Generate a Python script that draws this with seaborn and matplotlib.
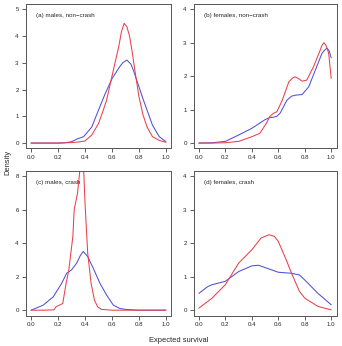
import matplotlib
matplotlib.use("Agg")
import matplotlib.pyplot as plt
import seaborn as sns
import pandas as pd

sns.set_style("white")
plt.rcParams['font.family'] = ['Liberation Sans', 'DejaVu Sans']

tickFont = 4.4
labelFont = 5.4
red = '#e8404c'
blue = '#5050d8'

# ---- curves (x = expected survival, y = density) ----
a_red_x = [0.0, 0.1, 0.2, 0.3, 0.35, 0.4, 0.45, 0.5, 0.53, 0.56, 0.6, 0.65, 0.67, 0.69, 0.71, 0.73, 0.75, 0.77, 0.8, 0.83, 0.86, 0.9, 0.95, 1.0]
a_red_y = [0.0, 0.0, 0.0, 0.02, 0.04, 0.08, 0.3, 0.73, 1.15, 1.6, 2.5, 3.6, 4.15, 4.47, 4.35, 4.0, 3.4, 2.7, 1.73, 1.05, 0.6, 0.24, 0.1, 0.03]
a_blue_x = [0.0, 0.1, 0.2, 0.25, 0.3, 0.34, 0.39, 0.45, 0.5, 0.55, 0.6, 0.65, 0.68, 0.71, 0.74, 0.76, 0.8, 0.83, 0.86, 0.9, 0.95, 1.0]
a_blue_y = [0.0, 0.0, 0.0, 0.01, 0.05, 0.15, 0.24, 0.6, 1.23, 1.85, 2.4, 2.8, 3.0, 3.1, 2.95, 2.7, 2.1, 1.65, 1.23, 0.67, 0.24, 0.05]

b_red_x = [0.0, 0.1, 0.2, 0.3, 0.4, 0.46, 0.51, 0.535, 0.56, 0.59, 0.63, 0.68, 0.71, 0.727, 0.75, 0.78, 0.815, 0.866, 0.917, 0.93, 0.945, 0.96, 0.98, 1.0]
b_red_y = [0.0, 0.0, 0.01, 0.05, 0.19, 0.29, 0.59, 0.79, 0.88, 0.94, 1.28, 1.83, 1.95, 1.98, 1.93, 1.85, 1.88, 2.28, 2.78, 2.92, 3.0, 2.92, 2.7, 1.93]
b_blue_x = [0.0, 0.1, 0.2, 0.3, 0.4, 0.5, 0.535, 0.56, 0.59, 0.615, 0.665, 0.7, 0.727, 0.78, 0.83, 0.88, 0.93, 0.955, 0.97, 0.985, 0.995, 1.0]
b_blue_y = [0.0, 0.01, 0.05, 0.24, 0.44, 0.7, 0.76, 0.77, 0.8, 0.9, 1.28, 1.4, 1.43, 1.45, 1.68, 2.18, 2.68, 2.8, 2.83, 2.75, 2.6, 2.55]

c_red_x = [0.0, 0.1, 0.17, 0.185, 0.21, 0.235, 0.26, 0.28, 0.31, 0.32, 0.345, 0.36, 0.375, 0.39, 0.4, 0.42, 0.445, 0.47, 0.494, 0.52, 0.6, 0.8, 1.0]
c_red_y = [0.0, 0.0, 0.02, 0.2, 0.3, 0.4, 1.6, 2.4, 4.4, 6.0, 7.0, 8.2, 8.9, 8.4, 6.4, 3.4, 1.6, 0.6, 0.2, 0.05, 0.0, 0.0, 0.0]
c_blue_x = [0.0, 0.09, 0.165, 0.227, 0.264, 0.3, 0.338, 0.365, 0.387, 0.42, 0.461, 0.511, 0.56, 0.61, 0.659, 0.708, 0.8, 1.0]
c_blue_y = [0.0, 0.3, 0.8, 1.6, 2.2, 2.4, 2.8, 3.25, 3.5, 3.2, 2.5, 1.6, 0.9, 0.3, 0.1, 0.04, 0.0, 0.0]

d_red_x = [0.0, 0.1, 0.2, 0.3, 0.4, 0.47, 0.53, 0.57, 0.6, 0.66, 0.7, 0.76, 0.8, 0.9, 1.0]
d_red_y = [0.06, 0.36, 0.76, 1.4, 1.8, 2.15, 2.25, 2.2, 2.05, 1.5, 1.1, 0.56, 0.36, 0.11, 0.01]
d_blue_x = [0.0, 0.066, 0.1, 0.2, 0.3, 0.4, 0.45, 0.5, 0.6, 0.7, 0.76, 0.8, 0.9, 1.0]
d_blue_y = [0.5, 0.7, 0.76, 0.86, 1.15, 1.32, 1.34, 1.27, 1.13, 1.1, 1.05, 0.9, 0.5, 0.16]

panels = [
    ("(a) males, non\u2212crash", a_red_x, a_red_y, a_blue_x, a_blue_y, 5),
    ("(b) females, non\u2212crash", b_red_x, b_red_y, b_blue_x, b_blue_y, 4),
    ("(c) males, crash", c_red_x, c_red_y, c_blue_x, c_blue_y, 8),
    ("(d) females, crash", d_red_x, d_red_y, d_blue_x, d_blue_y, 4),
]
yticks = [[0, 1, 2, 3, 4, 5], [0, 1, 2, 3, 4], [0, 2, 4, 6, 8], [0, 1, 2, 3, 4]]

# axes boxes, figure fractions (R style panels)
positions = [
    [0.075, 0.571, 0.426, 0.418],
    [0.566, 0.571, 0.418, 0.418],
    [0.075, 0.088, 0.426, 0.419],
    [0.566, 0.088, 0.418, 0.419],
]

fig = plt.figure(figsize=(3.42, 3.46), dpi=100)

for k, (title, rx, ry, bx, by, ymax) in enumerate(panels):
    ax = fig.add_axes(positions[k])
    sns.lineplot(x=bx, y=by, color=blue, lw=0.75, ax=ax, estimator=None)
    sns.lineplot(x=rx, y=ry, color=red, lw=0.75, ax=ax, estimator=None)
    ax.set_xlim(-0.04, 1.04)
    ax.set_ylim(-0.04 * ymax, 1.04 * ymax)
    ax.set_xticks([0.0, 0.2, 0.4, 0.6, 0.8, 1.0])
    ax.set_xticklabels(["0.0", "0.2", "0.4", "0.6", "0.8", "1.0"])
    ax.set_yticks(yticks[k])
    ax.tick_params(axis='both', direction='out', length=3, width=0.6, color='#444444',
                   labelsize=tickFont, pad=2, bottom=True, left=True)
    for s in ax.spines.values():
        s.set_color('#555555')
        s.set_linewidth(0.7)
    ax.text(0.07, 0.92, title, transform=ax.transAxes, fontsize=4.5, va='center', ha='left')
    ax.set_xlabel('')
    ax.set_ylabel('')

fig.text(0.023, 0.53, 'Density', rotation=90, fontsize=labelFont, va='center', ha='center')
fig.text(0.522, 0.017, 'Expected survival', fontsize=labelFont, va='center', ha='center')

plt.savefig("out.png", dpi=100)
